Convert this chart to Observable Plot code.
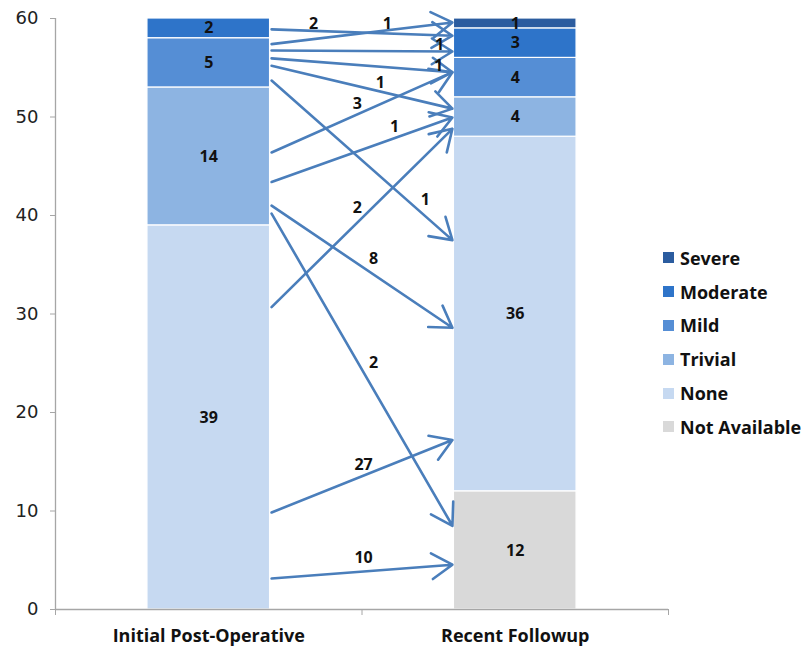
<!DOCTYPE html>
<html>
<head>
<meta charset="utf-8">
<script src="https://cdn.jsdelivr.net/npm/d3@7"></script>
<script src="https://cdn.jsdelivr.net/npm/@observablehq/plot@0.6"></script>
<style>
  body { margin: 0; background: #fff; }
  #wrap { position: relative; width: 809px; height: 654px; }
  #legend { position: absolute; left: 663px; top: 241px; font-family: "Open Sans", sans-serif; font-weight: bold; font-size: 18px; color: #111; }
  #legend .row { display: flex; align-items: center; height: 33.8px; }
  #legend .sw { width: 11px; height: 11px; margin-right: 6px; }
</style>
</head>
<body>
<div id="wrap"><div id="chart"></div><div id="legend"></div></div>
<script>
// Categories and severity levels
const categories = ["Initial Post-Operative", "Recent Followup"];
const levels = ["Severe", "Moderate", "Mild", "Trivial", "None", "Not Available"];
const levelColors = ["#2b5c9f", "#2e74c9", "#558ed5", "#8db4e2", "#c6d9f1", "#d9d9d9"];

// Stacked bar values (bottom to top)
const initialLevels = ["None", "Trivial", "Mild", "Moderate"];
const initialCounts = [39, 14, 5, 2];
const recentLevels = ["Not Available", "None", "Trivial", "Mild", "Moderate", "Severe"];
const recentCounts = [12, 36, 4, 4, 3, 1];

// Transitions (arrows): patient count, start value on left bar, end value on right bar
const flowCounts = [2, 1, 1, 1, 1, 3, 1, 1, 2, 8, 2, 27, 10];
const flowFrom   = [58.9, 57.4, 56.75, 55.95, 55.2, 46.4, 43.4, 53.7, 30.7, 41.0, 40.2, 9.85, 3.15];
const flowTo     = [58.25, 59.6, 56.65, 54.55, 50.85, 54.55, 49.95, 37.5, 48.8, 28.6, 8.5, 17.2, 4.55];
// Label anchor of each arrow count (position along the gap, value)
const flowLabelT = [0.842, 1.083, 1.253, 1.25, 1.06, 0.985, 1.106, 1.207, 0.985, 1.038, 1.038, 1.005, 1.005];
const flowLabelV = [59.5, 59.5, 57.3, 55.2, 53.5, 51.3, 49.0, 41.6, 40.8, 35.6, 25.0, 14.7, 5.2];

const yTicks = [0, 10, 20, 30, 40, 50, 60];

const barHalf = 0.2; // half width of bar in category units
function stack(catIndex, lv, counts) {
  let acc = 0;
  return lv.map((l, i) => {
    const y1 = acc; acc += counts[i];
    return {cat: catIndex, level: l, value: counts[i], x1: catIndex + 0.5 - barHalf, x2: catIndex + 0.5 + barHalf, y1, y2: acc};
  });
}
const segs = [...stack(0, initialLevels, initialCounts), ...stack(1, recentLevels, recentCounts)];
const flows = flowCounts.map((c, i) => ({
  n: c, x1: 0.5 + barHalf + 0.005, y1: flowFrom[i], x2: 1.5 - barHalf - 0.005, y2: flowTo[i],
  lx: flowLabelT[i], ly: flowLabelV[i]
}));

const font = "'Open Sans', sans-serif";
const plot = Plot.plot({
  width: 809,
  height: 654,
  marginLeft: 55,
  marginRight: 141,
  marginTop: 18,
  marginBottom: 45,
  x: {type: "linear", domain: [0, 2]},
  y: {domain: [0, 60]},
  color: {domain: levels, range: levelColors},
  style: {fontFamily: font, color: "#111", background: "#fff"},
  marks: [
    Plot.rectY(segs, {x1: "x1", x2: "x2", y1: "y1", y2: "y2", fill: "level", stroke: "#fff", strokeWidth: 1.2}),
    Plot.text(segs, {x: d => d.cat + 0.5, y: d => (d.y1 + d.y2) / 2, text: d => String(d.value), fontWeight: "bold", fontSize: 16, fill: "#111", fontFamily: font}),
    Plot.ruleX([0], {stroke: "#a6a6a6", strokeWidth: 1.3}),
    Plot.ruleY([0], {stroke: "#a6a6a6", strokeWidth: 1.3}),
    Plot.axisY({ticks: yTicks, tickSize: 5, tickPadding: 12, stroke: "#a6a6a6", fontSize: 18, fontFamily: "DejaVu Sans", fill: "#222", label: null, tickFormat: d3.format("d")}),
    Plot.axisX({ticks: [0, 1, 2], tickSize: 6, tickFormat: () => "", stroke: "#a6a6a6", label: null}),
    Plot.axisX({ticks: [0.5, 1.5], tickSize: 0, tickPadding: 20, tickFormat: d => categories[Math.floor(d)], fontWeight: "bold", fontSize: 18, fontFamily: font, fill: "#111", label: null}),
    Plot.arrow(flows, {x1: "x1", y1: "y1", x2: "x2", y2: "y2", stroke: "#4a7ebb", strokeWidth: 2.6, headLength: 14, headAngle: 64}),
    Plot.text(flows, {x: "lx", y: "ly", text: d => String(d.n), fontWeight: "bold", fontSize: 16, fill: "#111", fontFamily: font})
  ]
});
document.getElementById("chart").appendChild(plot);

// Legend from the colour scale
const legend = document.getElementById("legend");
levels.forEach((l, i) => {
  const row = document.createElement("div");
  row.className = "row";
  const sw = document.createElement("div");
  sw.className = "sw";
  sw.style.background = levelColors[i];
  const t = document.createElement("span");
  t.textContent = l;
  row.appendChild(sw); row.appendChild(t);
  legend.appendChild(row);
});
</script>
</body>
</html>
